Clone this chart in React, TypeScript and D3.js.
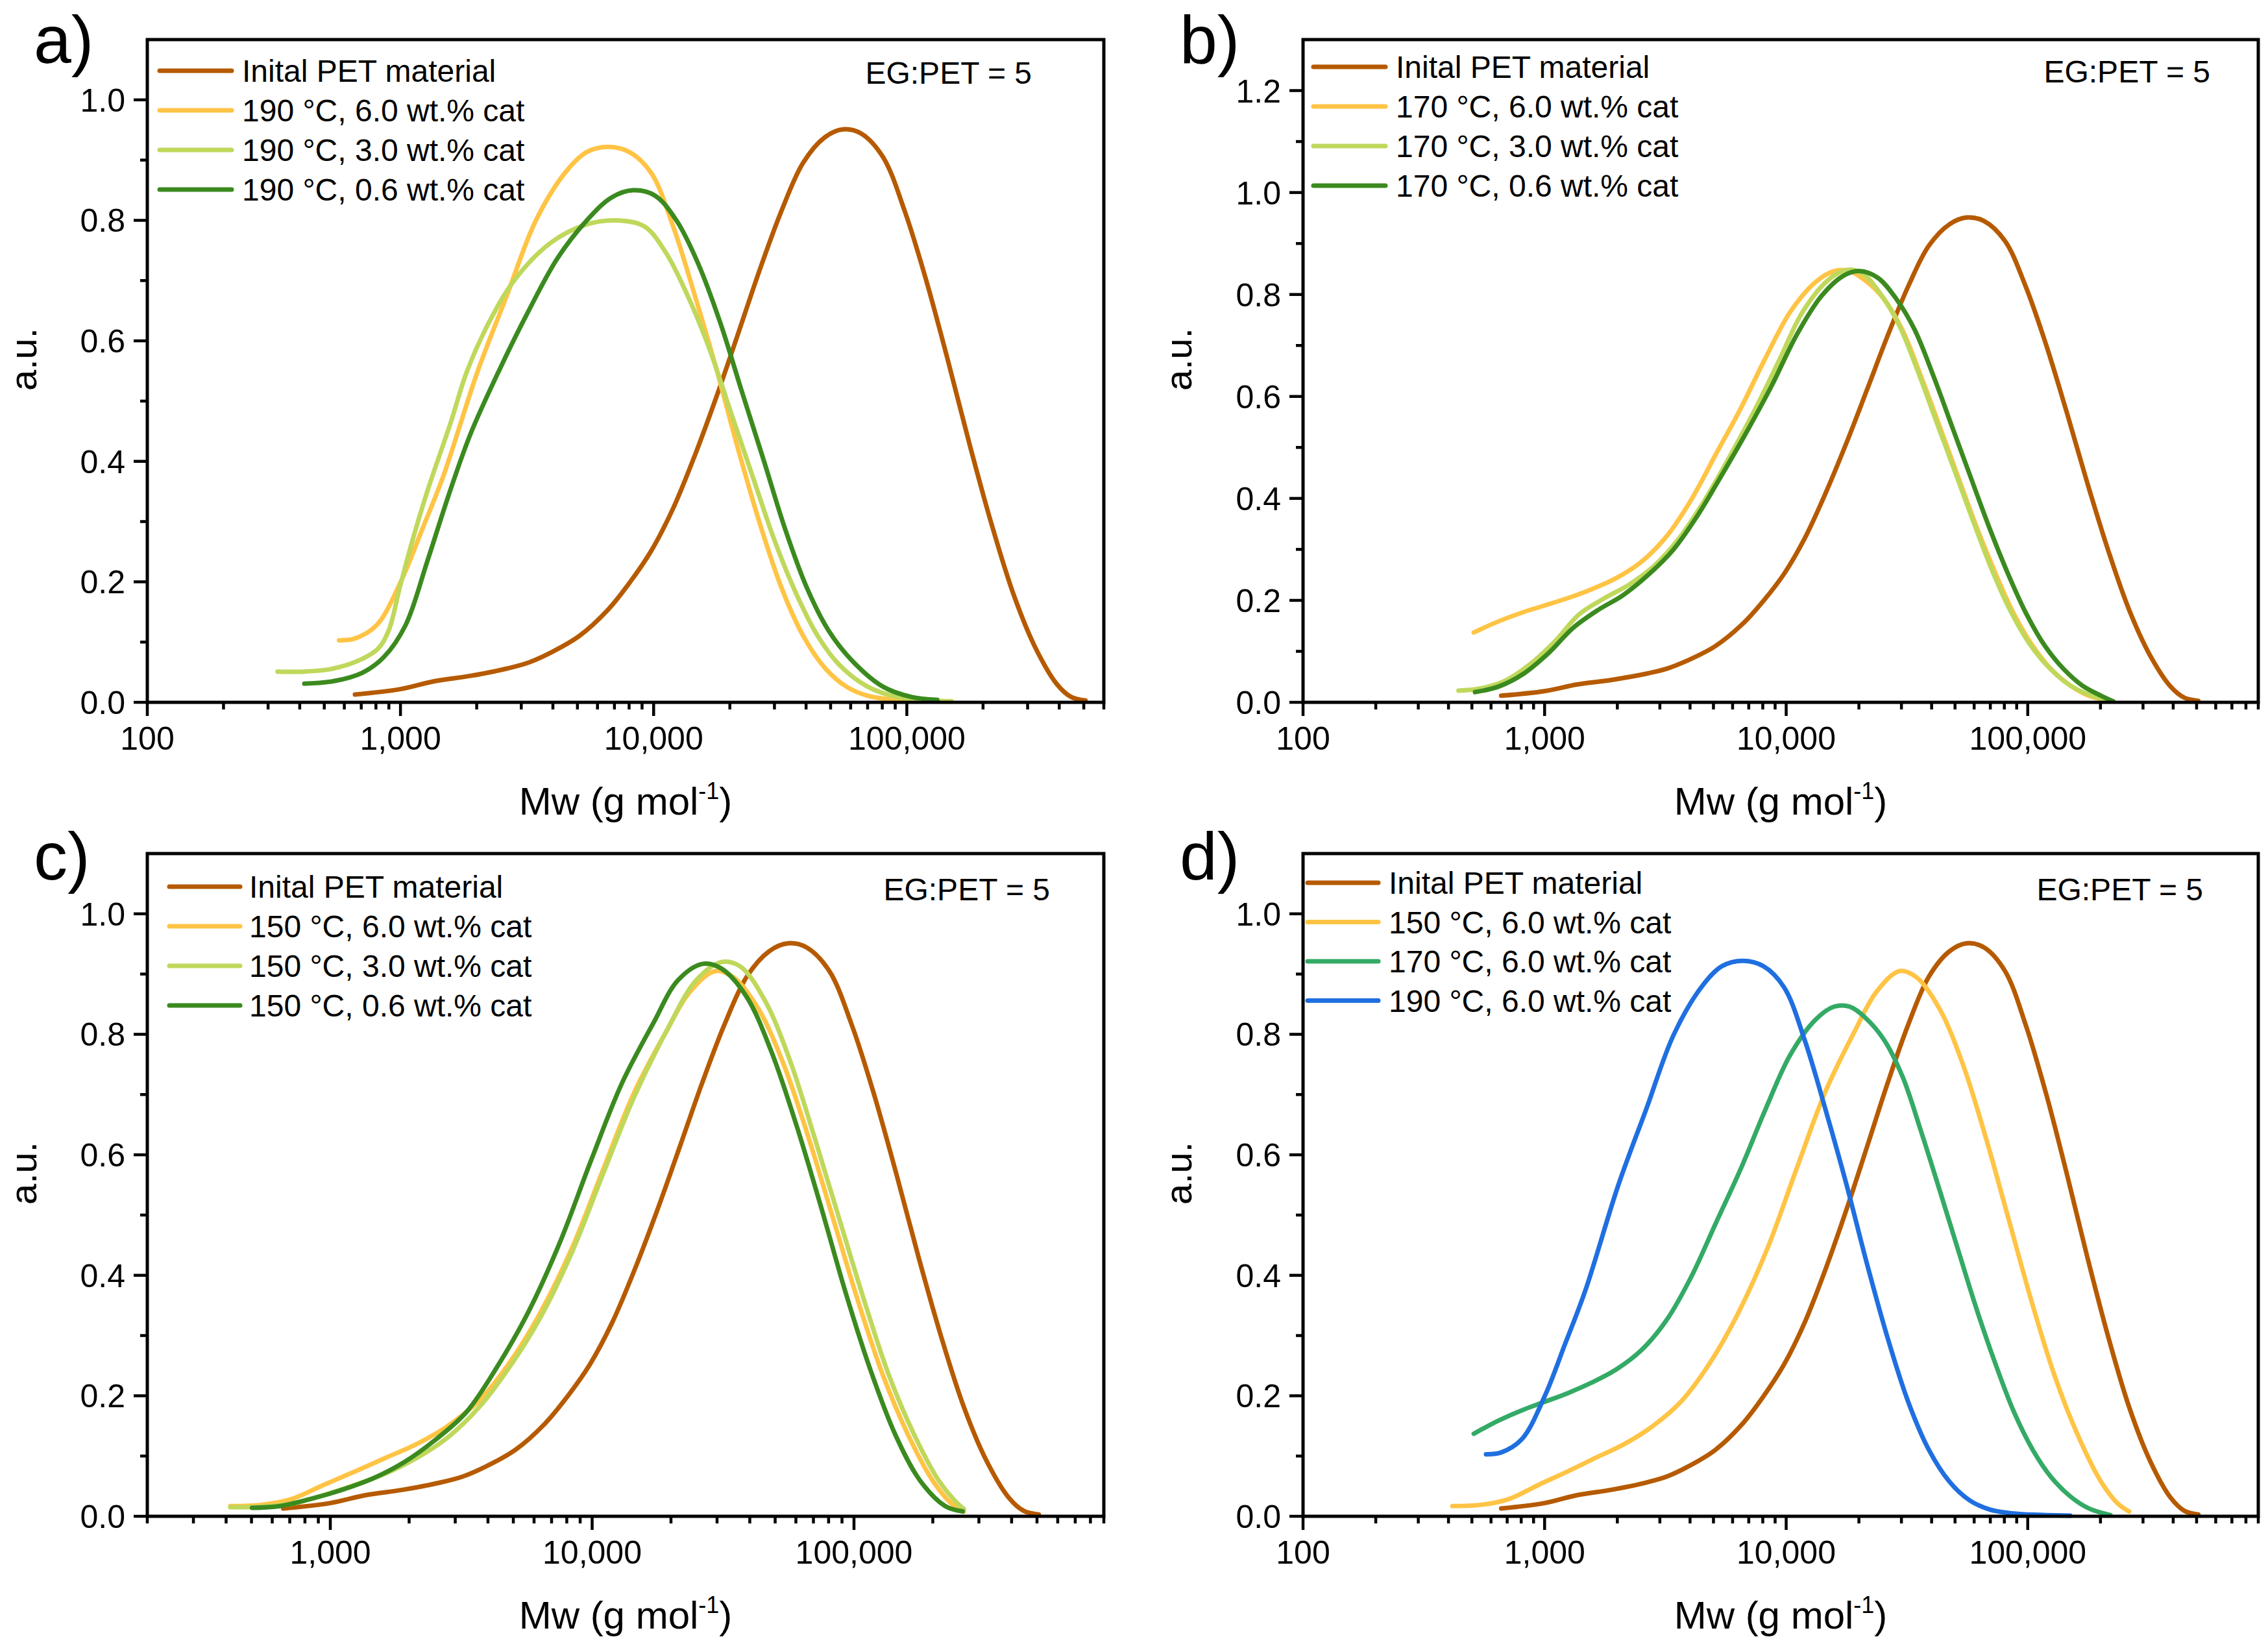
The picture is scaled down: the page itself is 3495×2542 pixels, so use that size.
import * as d3 from 'd3';

type Pt = [number, number];

// [Mw (g/mol), normalised signal]
const initialPet: Pt[] = [
  [661, 0.013], [1000, 0.022], [1361, 0.035], [1893, 0.044], [2630, 0.056], [3206, 0.066],
  [3902, 0.082], [5080, 0.11], [6610, 0.154], [8050, 0.199], [9800, 0.252], [11940, 0.322],
  [14550, 0.41], [17730, 0.508], [21600, 0.613], [26300, 0.719], [32000, 0.816], [39000, 0.896],
  [47500, 0.938], [56000, 0.951], [66000, 0.944], [80500, 0.905], [98000, 0.816], [119000, 0.702],
  [145000, 0.569], [177000, 0.428], [216000, 0.296], [263000, 0.181], [320000, 0.093],
  [390000, 0.031], [445000, 0.009], [508000, 0.003],
];

const t190c60: Pt[] = [
  [572, 0.103], [661, 0.106], [805, 0.128], [1000, 0.199], [1218, 0.287], [1475, 0.375],
  [2020, 0.55], [2630, 0.675], [3420, 0.799], [4450, 0.878], [5420, 0.913], [6610, 0.922],
  [8050, 0.913], [9800, 0.878], [11940, 0.79], [14550, 0.675], [17730, 0.552], [21600, 0.419],
  [26300, 0.296], [32000, 0.19], [39000, 0.11], [47500, 0.057], [57700, 0.026], [70000, 0.011],
  [91000, 0.004], [120000, 0.002], [150000, 0.001],
];

const t190c30: Pt[] = [
  [327, 0.051], [417, 0.051], [542, 0.056], [706, 0.072], [820, 0.09], [900, 0.12],
  [993, 0.19], [1100, 0.26], [1276, 0.35], [1575, 0.463], [1833, 0.55], [2233, 0.63],
  [2810, 0.7], [3900, 0.762], [5420, 0.793], [7060, 0.8], [9190, 0.79], [11190, 0.746],
  [13620, 0.675], [16600, 0.587], [20200, 0.481], [24600, 0.375], [30000, 0.269], [36500, 0.181],
  [44500, 0.11], [54200, 0.062], [70000, 0.026], [91000, 0.009], [119000, 0.003], [150000, 0.002],
];

const t190c06: Pt[] = [
  [417, 0.031], [542, 0.035], [706, 0.049], [859, 0.075], [1047, 0.128], [1276, 0.234],
  [1553, 0.345], [1893, 0.446], [2460, 0.552], [3200, 0.649], [4170, 0.737], [5420, 0.799],
  [6820, 0.838], [8320, 0.85], [10130, 0.841], [12340, 0.799], [15000, 0.728], [18300, 0.631],
  [22300, 0.516], [27200, 0.402], [33100, 0.287], [40300, 0.19], [49100, 0.119], [61800, 0.066],
  [80500, 0.026], [104000, 0.009], [132000, 0.004],
];

const t170c60: Pt[] = [
  [509, 0.137], [646, 0.159], [818, 0.177], [1000, 0.19], [1240, 0.204], [1568, 0.222],
  [1985, 0.244], [2520, 0.276], [3190, 0.325], [4040, 0.397], [5120, 0.487], [6490, 0.577],
  [8220, 0.676], [10400, 0.766], [13200, 0.824], [15800, 0.846], [18300, 0.846], [21200, 0.828],
  [25300, 0.792], [30300, 0.73], [36100, 0.64], [43200, 0.541], [51500, 0.442], [61500, 0.343],
  [73500, 0.253], [87700, 0.173], [105000, 0.11], [125000, 0.065], [150000, 0.033],
  [179000, 0.013], [220000, 0.002],
];

const t170c30: Pt[] = [
  [440, 0.023], [541, 0.027], [685, 0.042], [867, 0.074], [1100, 0.119], [1393, 0.173],
  [1766, 0.204], [2240, 0.231], [2830, 0.267], [3590, 0.321], [4550, 0.393], [5770, 0.478],
  [7310, 0.568], [9270, 0.667], [11700, 0.766], [14900, 0.828], [17700, 0.848], [20600, 0.842],
  [24600, 0.801], [29400, 0.739], [35100, 0.649], [41900, 0.55], [50100, 0.451], [59800, 0.352],
  [71300, 0.258], [85300, 0.177], [102000, 0.114], [122000, 0.069], [150000, 0.033],
  [184000, 0.013], [224000, 0.002],
];

const t170c06: Pt[] = [
  [515, 0.02], [646, 0.031], [818, 0.056], [1035, 0.096], [1312, 0.146], [1663, 0.181],
  [2110, 0.21], [2670, 0.249], [3390, 0.298], [4290, 0.366], [5430, 0.447], [6890, 0.532],
  [8730, 0.622], [11060, 0.721], [14000, 0.797], [17300, 0.837], [20000, 0.846], [23900, 0.833],
  [28500, 0.792], [34100, 0.73], [40700, 0.64], [48600, 0.541], [58000, 0.442], [69300, 0.343],
  [82700, 0.253], [98800, 0.173], [118000, 0.11], [141000, 0.065], [168000, 0.033],
  [201000, 0.013], [226000, 0.002],
];

const t150c60: Pt[] = [
  [415, 0.017], [545, 0.019], [716, 0.029], [942, 0.052], [1238, 0.074], [1626, 0.097],
  [2140, 0.12], [2810, 0.15], [3700, 0.192], [4860, 0.256], [6380, 0.34], [8390, 0.446],
  [11000, 0.575], [14500, 0.704], [19100, 0.803], [23700, 0.871], [29500, 0.905], [34800, 0.894],
  [43300, 0.841], [53900, 0.75], [67100, 0.628], [83500, 0.492], [104000, 0.355], [129000, 0.234],
  [161000, 0.135], [200000, 0.059], [236000, 0.021], [263000, 0.008],
];

const t150c30: Pt[] = [
  [415, 0.015], [545, 0.016], [716, 0.021], [942, 0.035], [1238, 0.052], [1626, 0.071],
  [2140, 0.097], [2810, 0.131], [3700, 0.181], [4860, 0.249], [6380, 0.332], [8390, 0.439],
  [11000, 0.568], [14500, 0.697], [19100, 0.803], [25000, 0.89], [31200, 0.92], [36700, 0.913],
  [45700, 0.856], [56900, 0.757], [70800, 0.628], [88100, 0.492], [110000, 0.355], [136000, 0.234],
  [170000, 0.135], [211000, 0.059], [249000, 0.021], [263000, 0.012],
];

const t150c06: Pt[] = [
  [502, 0.014], [643, 0.017], [844, 0.029], [1110, 0.044], [1458, 0.063], [1917, 0.09],
  [2520, 0.127], [3310, 0.173], [4350, 0.249], [5720, 0.34], [7520, 0.454], [9890, 0.59],
  [13000, 0.719], [17100, 0.818], [21300, 0.89], [26500, 0.917], [31200, 0.909], [38800, 0.863],
  [48300, 0.772], [60100, 0.651], [74800, 0.514], [93100, 0.37], [116000, 0.241], [144000, 0.135],
  [179000, 0.059], [223000, 0.017], [260000, 0.008],
];

const legendA = ['Inital PET material', '190 °C, 6.0 wt.% cat', '190 °C, 3.0 wt.% cat', '190 °C, 0.6 wt.% cat'];
const legendB = ['Inital PET material', '170 °C, 6.0 wt.% cat', '170 °C, 3.0 wt.% cat', '170 °C, 0.6 wt.% cat'];
const legendC = ['Inital PET material', '150 °C, 6.0 wt.% cat', '150 °C, 3.0 wt.% cat', '150 °C, 0.6 wt.% cat'];
const legendD = ['Inital PET material', '150 °C, 6.0 wt.% cat', '170 °C, 6.0 wt.% cat', '190 °C, 6.0 wt.% cat'];

const ratioLabel = 'EG:PET = 5';
const yTitle = 'a.u.';

const BROWN = '#b65a00';
const YELLOW = '#ffc445';
const LIME = '#bfd85c';
const DARKGREEN = '#3b8a1f';
const GREEN = '#33aa66';
const BLUE = '#1f6fe0';

const FONT = '"Liberation Sans", Arial, Helvetica, sans-serif';

interface Series { label: string; data: Pt[]; color: string }
interface PanelSpec {
  letter: string;
  xDomain: [number, number];
  yMax: number;
  left: number; right: number; top: number; bottom: number;
  series: Series[];
  legend: { x1: number; x2: number; tx: number; y0: number; dy: number };
  ratio: { x: number; y: number };
  letterPos: { x: number; y: number };
  yTitleX: number;
}

const mk = (labels: string[], data: Pt[][], colors: string[]): Series[] =>
  labels.map((label, i) => ({ label, data: data[i], color: colors[i] }));

const panels: PanelSpec[] = [
  {
    letter: 'a)', xDomain: [100, 600000], yMax: 1.1,
    left: 227, right: 1701, top: 61, bottom: 1082,
    series: mk(legendA, [initialPet, t190c60, t190c30, t190c06], [BROWN, YELLOW, LIME, DARKGREEN]),
    legend: { x1: 246, x2: 357, tx: 373, y0: 109, dy: 61 },
    ratio: { x: 1590, y: 112 }, letterPos: { x: 52, y: 97 }, yTitleX: 56,
  },
  {
    letter: 'b)', xDomain: [100, 900000], yMax: 1.3,
    left: 2008, right: 3480, top: 61, bottom: 1082,
    series: mk(legendB, [initialPet, t170c60, t170c30, t170c06], [BROWN, YELLOW, LIME, DARKGREEN]),
    legend: { x1: 2024, x2: 2135, tx: 2151, y0: 103, dy: 61 },
    ratio: { x: 3406, y: 110 }, letterPos: { x: 1818, y: 97 }, yTitleX: 1836,
  },
  {
    letter: 'c)', xDomain: [200, 900000], yMax: 1.1,
    left: 227, right: 1701, top: 1315, bottom: 2336,
    series: mk(legendC, [initialPet, t150c60, t150c30, t150c06], [BROWN, YELLOW, LIME, DARKGREEN]),
    legend: { x1: 261, x2: 370, tx: 384, y0: 1366, dy: 61 },
    ratio: { x: 1618, y: 1370 }, letterPos: { x: 52, y: 1355 }, yTitleX: 56,
  },
  {
    letter: 'd)', xDomain: [100, 900000], yMax: 1.1,
    left: 2008, right: 3480, top: 1315, bottom: 2336,
    series: mk(legendD, [initialPet, t150c60, t170c60, t190c60], [BROWN, YELLOW, GREEN, BLUE]),
    legend: { x1: 2015, x2: 2124, tx: 2140, y0: 1360, dy: 60.5 },
    ratio: { x: 3395, y: 1370 }, letterPos: { x: 1818, y: 1355 }, yTitleX: 1836,
  },
];

function Panel({ p }: { p: PanelSpec }) {
  const x = d3.scaleLog().domain(p.xDomain).range([p.left, p.right]);
  const y = d3.scaleLinear().domain([0, p.yMax]).range([p.bottom, p.top]);
  const line = d3.line<Pt>()
    .x((d) => x(d[0]))
    .y((d) => y(d[1]))
    .curve(d3.curveCatmullRom.alpha(0.5));

  const isMajor = (t: number) => Math.abs(Math.log10(t) - Math.round(Math.log10(t))) < 1e-6;
  const xTicks = x.ticks();
  const yTicks = d3.range(0, Math.round(p.yMax * 10)).map((i) => i / 10);
  const fmtX = d3.format(',');
  const fmtY = d3.format('.1f');
  const cx = (p.left + p.right) / 2;
  const cy = (p.top + p.bottom) / 2 - 18;

  return (
    <g>
      {/* curves */}
      {p.series.map((s) => (
        <path key={s.label + s.color} d={line(s.data) ?? ''} fill="none" stroke={s.color}
          strokeWidth={7} strokeLinecap="round" strokeLinejoin="round" />
      ))}

      {/* frame */}
      <rect x={p.left} y={p.top} width={p.right - p.left} height={p.bottom - p.top}
        fill="none" stroke="#000" strokeWidth={5} />

      {/* x ticks */}
      {xTicks.map((t) => {
        const major = isMajor(t);
        return (
          <g key={'x' + t}>
            <line x1={x(t)} x2={x(t)} y1={p.bottom} y2={p.bottom + (major ? 21 : 11)}
              stroke="#000" strokeWidth={4.5} />
            {major && (
              <text x={x(t)} y={p.bottom + 73} textAnchor="middle" fontSize={50} fontFamily={FONT}>
                {fmtX(t)}
              </text>
            )}
          </g>
        );
      })}

      {/* y ticks */}
      {yTicks.map((v, i) => {
        const major = i % 2 === 0;
        return (
          <g key={'y' + i}>
            <line x1={p.left - (major ? 21 : 11)} x2={p.left} y1={y(v)} y2={y(v)}
              stroke="#000" strokeWidth={4.5} />
            {major && (
              <text x={p.left - 34} y={y(v)} dy="0.36em" textAnchor="end" fontSize={50} fontFamily={FONT}>
                {fmtY(v)}
              </text>
            )}
          </g>
        );
      })}

      {/* axis titles */}
      <text x={cx} y={p.bottom + 173} textAnchor="middle" fontSize={60} fontFamily={FONT}>
        Mw (g mol<tspan dy={-24} fontSize={36}>-1</tspan><tspan dy={24}>)</tspan>
      </text>
      <text transform={`translate(${p.yTitleX},${cy}) rotate(-90)`} textAnchor="middle"
        fontSize={58} fontFamily={FONT}>
        {yTitle}
      </text>

      {/* legend */}
      {p.series.map((s, i) => {
        const ly = p.legend.y0 + i * p.legend.dy;
        return (
          <g key={'lg' + i}>
            <line x1={p.legend.x1} x2={p.legend.x2} y1={ly} y2={ly} stroke={s.color}
              strokeWidth={7} strokeLinecap="round" />
            <text x={p.legend.tx} y={ly} dy="0.36em" fontSize={48} fontFamily={FONT}>{s.label}</text>
          </g>
        );
      })}

      <text x={p.ratio.x} y={p.ratio.y} dy="0.36em" textAnchor="end" fontSize={48} fontFamily={FONT}>
        {ratioLabel}
      </text>

      <text x={p.letterPos.x} y={p.letterPos.y} fontSize={104} fontFamily={FONT}>{p.letter}</text>
    </g>
  );
}

export default function App() {
  return (
    <svg width={3495} height={2542} viewBox="0 0 3495 2542"
      style={{ position: 'absolute', left: 0, top: 0, background: '#fff' }}>
      <rect width={3495} height={2542} fill="#fff" />
      {panels.map((p) => <Panel key={p.letter} p={p} />)}
    </svg>
  );
}
